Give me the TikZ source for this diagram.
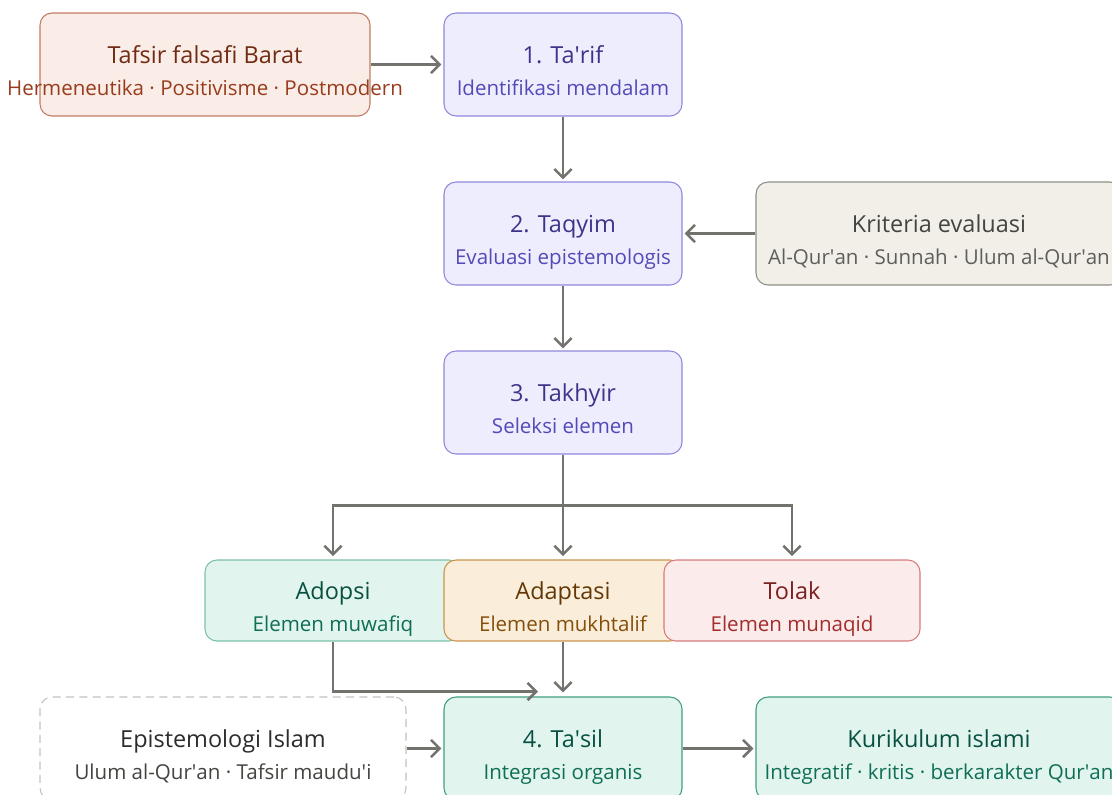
\documentclass[tikz,border=0pt]{standalone}
\usepackage{fontspec}
\setmainfont{Open Sans}
\usetikzlibrary{arrows.meta}
\newcommand{\myq}{\textquotesingle}
\definecolor{corFill}{HTML}{FAECE7}
\definecolor{corLine}{HTML}{C47A62}
\definecolor{corT}{HTML}{712B13}
\definecolor{corS}{HTML}{993C1D}
\definecolor{purFill}{HTML}{EEEDFE}
\definecolor{purLine}{HTML}{8F88DC}
\definecolor{purT}{HTML}{3C3489}
\definecolor{purS}{HTML}{534AB7}
\definecolor{teaFill}{HTML}{E1F5EE}
\definecolor{teaLineL}{HTML}{7CC2A6}
\definecolor{teaLine}{HTML}{3F9F7D}
\definecolor{teaT}{HTML}{085041}
\definecolor{teaS}{HTML}{0F6E56}
\definecolor{ambFill}{HTML}{FAEEDA}
\definecolor{ambLine}{HTML}{C9944A}
\definecolor{ambT}{HTML}{633806}
\definecolor{ambS}{HTML}{854F0B}
\definecolor{redFill}{HTML}{FCEBEB}
\definecolor{redLine}{HTML}{D77C7C}
\definecolor{redT}{HTML}{791F1F}
\definecolor{redS}{HTML}{A32D2D}
\definecolor{gryFill}{HTML}{F1EFE8}
\definecolor{gryLine}{HTML}{8E8D86}
\definecolor{gryT}{HTML}{444441}
\definecolor{gryS}{HTML}{5F5E5A}
\definecolor{epiLine}{HTML}{C4C2BB}
\definecolor{epiT}{HTML}{2C2C2A}
\definecolor{arrowc}{HTML}{73726C}
\tikzset{
  box/.style={draw, rounded corners=9pt, line width=0.8pt, inner sep=0pt, minimum height=77.25pt},
  bigbox/.style={box, minimum height=77.25pt},
  smallbox/.style={box, minimum height=60.75pt},
  ttl/.style={anchor=base, inner sep=0pt, font=\fontsize{17.6}{20}\selectfont},
  sub/.style={anchor=base, inner sep=0pt, font=\fontsize{15.4}{18}\selectfont},
  arr/.style={draw=arrowc, line width=1.95pt, -{Straight Barb[length=6.5pt,width=13pt,line width=1.9pt]}, shorten >=1.5pt},
  plainline/.style={draw=arrowc, line width=1.95pt}
}
\begin{document}
\begin{tikzpicture}[x=0.75pt,y=-0.75pt]
\useasboundingbox (0,0) rectangle (1112,794);
\clip (0,0) rectangle (1112,794);
% boxes
\node[bigbox, fill=corFill, draw=corLine, minimum width=247.5pt] (tafsir) at (205,64.5) {};
\node[ttl, text=corT] (tafsirT) at (205,63.5) {Tafsir falsafi Barat};
\node[sub, text=corS] (tafsirS) at (205,95.5) {Hermeneutika · Positivisme · Postmodern};

\node[bigbox, fill=purFill, draw=purLine, minimum width=178.5pt] (tarif) at (563,64.5) {};
\node[ttl, text=purT] (tarifT) at (563,63.5) {1. Ta\myq rif};
\node[sub, text=purS] (tarifS) at (563,95.5) {Identifikasi mendalam};

\node[bigbox, fill=purFill, draw=purLine, minimum width=178.5pt] (taqyim) at (563,233.5) {};
\node[ttl, text=purT] (taqyimT) at (563,232.5) {2. Taqyim};
\node[sub, text=purS] (taqyimS) at (563,264.5) {Evaluasi epistemologis};

\node[bigbox, fill=gryFill, draw=gryLine, minimum width=274.5pt] (kriteria) at (939,233.5) {};
\node[ttl, text=gryT] (kriteriaT) at (939,232.5) {Kriteria evaluasi};
\node[sub, text=gryS] (kriteriaS) at (939,264.5) {Al-Qur\myq an · Sunnah · Ulum al-Qur\myq an};

\node[bigbox, fill=purFill, draw=purLine, minimum width=178.5pt] (takhyir) at (563,402.5) {};
\node[ttl, text=purT] (takhyirT) at (563,401.5) {3. Takhyir};
\node[sub, text=purS] (takhyirS) at (563,433.5) {Seleksi elemen};

\node[smallbox, fill=teaFill, draw=teaLineL, minimum width=192pt] (adopsi) at (333,600.5) {};
\node[smallbox, fill=ambFill, draw=ambLine, minimum width=178.5pt] (adaptasi) at (563,600.5) {};
\node[smallbox, fill=redFill, draw=redLine, minimum width=192pt] (tolak) at (792,600.5) {};
\node[ttl, text=teaT] (adopsiT) at (333,599.5) {Adopsi};
\node[sub, text=teaS] (adopsiS) at (333,631.5) {Elemen muwafiq};
\node[ttl, text=ambT] (adaptasiT) at (563,599.5) {Adaptasi};
\node[sub, text=ambS] (adaptasiS) at (563,631.5) {Elemen mukhtalif};
\node[ttl, text=redT] (tolakT) at (792,599.5) {Tolak};
\node[sub, text=redS] (tolakS) at (792,631.5) {Elemen munaqid};

\node[bigbox, fill=white, draw=epiLine, dash pattern=on 6pt off 4pt, minimum width=274.5pt] (epist) at (223,748.5) {};
\node[ttl, text=epiT] (epistT) at (223,747.5) {Epistemologi Islam};
\node[sub, text=gryT] (epistS) at (223,779.5) {Ulum al-Qur\myq an · Tafsir maudu\myq i};

\node[bigbox, fill=teaFill, draw=teaLine, minimum width=178.5pt] (tasil) at (563,748.5) {};
\node[ttl, text=teaT] (tasilT) at (563,747.5) {4. Ta\myq sil};
\node[sub, text=teaS] (tasilS) at (563,779.5) {Integrasi organis};

\node[bigbox, fill=teaFill, draw=teaLine, minimum width=274.5pt] (kurik) at (939,748.5) {};
\node[ttl, text=teaT] (kurikT) at (939,747.5) {Kurikulum islami};
\node[sub, text=teaS] (kurikS) at (939,779.5) {Integratif · kritis · berkarakter Qur\myq an};

% connectors
\draw[arr] (tafsir.east) -- (tarif.west);
\draw[arr] (tarif.south) -- (taqyim.north);
\draw[arr] (kriteria.west) -- (taqyim.east);
\draw[arr] (taqyim.south) -- (takhyir.north);
\coordinate (split) at (563,505.5);
\draw[plainline] (takhyir.south) -- (split);
\draw[arr, shorten >=2.5pt] (split) -| (adopsi.north);
\draw[arr, shorten >=2.5pt] (split) -- (adaptasi.north);
\draw[arr, shorten >=2.5pt] (split) -| (tolak.north);
\coordinate (mergeend) at (538,691.5);
\draw[arr, shorten >=0pt] (adopsi.south) |- (mergeend);
\draw[arr, shorten >=3pt] (adaptasi.south) -- (tasil.north);
\draw[arr] (epist.east) -- (tasil.west);
\draw[arr] (tasil.east) -- (kurik.west);
\end{tikzpicture}
\end{document}
